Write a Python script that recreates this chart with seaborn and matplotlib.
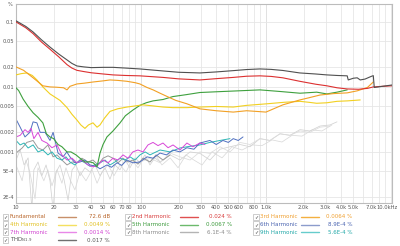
import numpy as np
import pandas as pd
import matplotlib
matplotlib.use("Agg")
import matplotlib.pyplot as plt
import matplotlib.transforms as mtransforms
import seaborn as sns

# ---------------- data (frequency in Hz, level in %) ----------------
thd_f = [10, 12, 13.7, 16, 18.7, 22, 25.6, 28, 30.7, 35, 40, 50, 59.7, 75, 98, 150, 200, 296, 400, 547,
         700, 895, 1100, 1365, 1864, 2500, 3069, 3700, 4465, 4550, 5000, 5369, 5675, 6200, 7000, 7220,
         7350, 8500, 10190]
thd_v = [0.104, 0.085, 0.070, 0.053, 0.041, 0.032, 0.026, 0.023, 0.021, 0.0203, 0.0198, 0.0200, 0.0200,
         0.0195, 0.0189, 0.0176, 0.0168, 0.0164, 0.0170, 0.0178, 0.0185, 0.0189, 0.0186, 0.0179, 0.0164,
         0.0158, 0.0153, 0.0150, 0.0148, 0.0128, 0.0136, 0.0138, 0.0128, 0.0132, 0.0146, 0.0149,
         0.0098, 0.0102, 0.0107]

h2_f = [10, 12, 13.7, 16, 18.7, 22, 25.6, 28, 30.7, 35, 40, 50, 59.7, 75, 98, 150, 200, 296, 400, 547,
        700, 895, 1100, 1365, 1864, 2500, 3069, 3700, 4465, 5500, 6500, 7220, 8500, 10190]
h2_v = [0.100, 0.081, 0.066, 0.049, 0.038, 0.029, 0.022, 0.0195, 0.018, 0.0172, 0.0165, 0.0158, 0.0153,
        0.0150, 0.0148, 0.0140, 0.0133, 0.0128, 0.0134, 0.0140, 0.0146, 0.0148, 0.0145, 0.0138, 0.0122,
        0.0110, 0.0104, 0.0097, 0.0093, 0.0092, 0.0095, 0.0100, 0.0102, 0.0104]

h3_f = [10, 11.5, 13.7, 16.4, 18.7, 21, 24, 25.6, 27, 30.7, 35, 41.3, 50, 56.5, 65, 77.2, 90, 98, 111.8,
        125, 142, 165, 190, 233, 296, 400, 547, 700, 1000, 1365, 1864, 2200, 2704, 3500, 4465, 5369,
        6478, 7220]
h3_v = [0.0203, 0.0180, 0.0138, 0.0104, 0.0100, 0.0099, 0.0097, 0.0090, 0.0102, 0.0111, 0.0114, 0.0119,
        0.0124, 0.0128, 0.0126, 0.0122, 0.0116, 0.0111, 0.0098, 0.0090, 0.0080, 0.0070, 0.0062, 0.0055,
        0.0046, 0.0043, 0.0041, 0.0043, 0.0041, 0.0053, 0.0063, 0.0068, 0.0075, 0.0079, 0.0081, 0.0087,
        0.0098, 0.0119]

h4_f = [10, 11, 12.2, 13.5, 14.7, 16.4, 18.7, 22.5, 25.6, 28, 30.7, 33, 35.6, 38, 41.3, 44.5, 47, 51,
        56.5, 65, 77.2, 90, 103.8, 125, 150, 180, 233, 296, 400, 547, 700, 1019, 1400, 1871, 2200, 2545,
        3069, 3700, 4500, 5675]
h4_v = [0.0153, 0.0160, 0.0164, 0.0150, 0.0128, 0.0100, 0.0078, 0.0062, 0.0048, 0.0038, 0.0031, 0.0026,
        0.0023, 0.0026, 0.0028, 0.0024, 0.0026, 0.0033, 0.0042, 0.0046, 0.0049, 0.0051, 0.0053, 0.0051,
        0.0049, 0.0048, 0.0048, 0.0049, 0.0050, 0.0049, 0.0052, 0.0055, 0.0058, 0.0060, 0.0058, 0.0056,
        0.0057, 0.0060, 0.0061, 0.0063]

h5_f = [10, 10.5, 11.4, 12.5, 13.7, 15, 16.4, 17.5, 18.7, 20, 21.7, 23.3, 25.6, 27.5, 30.2, 32.5, 35.6,
        39.1, 41.5, 44.5, 47, 49.7, 53.4, 59.7, 68, 75, 86.1, 98, 110, 125, 150, 180, 230, 296, 450,
        600, 895, 1300, 1871, 2545, 3069, 3700, 4465]
h5_v = [0.0097, 0.0088, 0.0065, 0.0050, 0.0040, 0.0034, 0.0028, 0.0019, 0.0017, 0.0016, 0.0013, 0.0012,
        0.0010, 0.0010, 0.0009, 0.0008, 0.0007, 0.0007, 0.00068, 0.00059, 0.00096, 0.0013, 0.0017,
        0.0021, 0.0028, 0.0036, 0.0044, 0.0052, 0.0057, 0.0061, 0.0064, 0.0071, 0.0076, 0.0082, 0.0085,
        0.0087, 0.0090, 0.0085, 0.0080, 0.0083, 0.0078, 0.0083, 0.0090]

h6_f = [10, 10.8, 11.8, 12.9, 13.7, 14.7, 15.6, 17.1, 18.7, 19.8, 21.7, 23.8, 25.5, 27.0, 29.7, 32.5,
        35.6, 39.1, 44.5, 47, 53.4, 58, 64.4, 70, 77.2, 86, 98, 111.8, 125, 142, 160, 180, 205, 233, 265,
        296, 356, 400, 452, 500, 547, 600, 655]
h6_v = [0.0032, 0.0024, 0.0017, 0.0020, 0.0029, 0.0028, 0.0020, 0.0020, 0.0015, 0.0020, 0.00096, 0.00084,
        0.0010, 0.00084, 0.00068, 0.0007, 0.00075, 0.00063, 0.00059, 0.00055, 0.00063, 0.00058, 0.00068,
        0.00062, 0.00075, 0.00068, 0.0007, 0.00084, 0.0008, 0.00096, 0.0009, 0.00107, 0.001, 0.00116,
        0.0011, 0.00137, 0.0015, 0.0013, 0.0015, 0.0014, 0.0016, 0.0015, 0.0017]

h7_f = [10, 10.8, 11.8, 12.5, 13.2, 13.9, 15.0, 16.1, 17.7, 19.4, 21.3, 23.3, 25.6, 28.1, 30.7, 33.7,
        37.7, 41.3, 45.3, 49.7, 54.5, 59.7, 65.5, 71.8, 78.7, 86.1, 94.5, 103.8, 113.7, 124.8, 136.8,
        150, 164.6, 180.5, 205, 233, 260, 296, 325]
h7_v = [0.0017, 0.0018, 0.0022, 0.0020, 0.0023, 0.0016, 0.0020, 0.0015, 0.00137, 0.00116, 0.00128,
        0.0009, 0.00075, 0.0008, 0.00068, 0.00075, 0.00063, 0.00059, 0.00063, 0.00075, 0.00068, 0.0008,
        0.00075, 0.0009, 0.0008, 0.0010, 0.00107, 0.0010, 0.00128, 0.0014, 0.00125, 0.00137, 0.00116,
        0.00128, 0.00107, 0.00137, 0.0012, 0.00137, 0.0013]

h8_f = [10, 11.2, 12.2, 13.7, 15.0, 16.4, 18.0, 19.8, 21.3, 23.3, 25.6, 28.1, 30.7, 33.7, 37.7, 41.3,
        45.3, 49.7, 54.5, 59.7, 65.5, 71.8, 78.7, 86.1, 94.5, 103.8, 118, 132, 150, 171]
h8_v = [0.00096, 0.00115, 0.0014, 0.0015, 0.00115, 0.00107, 0.00128, 0.00084, 0.0009, 0.00075, 0.00063,
        0.0007, 0.00068, 0.0008, 0.0007, 0.00075, 0.00063, 0.0008, 0.00087, 0.0008, 0.00068, 0.0008,
        0.0007, 0.00075, 0.00065, 0.0008, 0.0007, 0.0009, 0.00075, 0.0009]

h9_f = [10, 10.8, 11.6, 12.5, 13.7, 15.0, 16.4, 18.0, 19.4, 21.3, 23.3, 25.1, 27.0, 29.6, 32.5, 35.6,
        39.1, 42.9, 47.0, 51.5, 56.5, 61.9, 67.9, 74.5, 81.7, 89.5, 98.2, 108, 118, 142, 171, 205, 247,
        296, 356, 429, 515]
h9_v = [0.0015, 0.00128, 0.00137, 0.00115, 0.00128, 0.0010, 0.00107, 0.0009, 0.0010, 0.0008, 0.00075,
        0.00084, 0.0007, 0.00063, 0.00075, 0.00068, 0.0006, 0.00063, 0.00068, 0.00075, 0.00063, 0.0007,
        0.0008, 0.00075, 0.00084, 0.00075, 0.0009, 0.0010, 0.0009, 0.00107, 0.0010, 0.00115, 0.00122,
        0.00128, 0.0014, 0.0015, 0.0016]

noise1_f = [10, 10.8, 11.6, 12.5, 13.4, 13.9, 15.0, 16.1, 17.4, 18.7, 19.8, 20.9, 22.5, 24.2, 26.1, 28.1,
            30.2, 32.5, 35.6, 39.1, 42.9, 47.0, 51.5, 56.5, 61.9, 67.9, 74.5, 81.7, 89.5, 98.2, 107.6,
            118, 129, 142, 171, 205, 247, 296, 356, 429, 515, 619, 745, 895, 1076, 1294, 1556, 1871,
            2249, 2704, 3251, 3698]
noise1_v = [0.00075, 0.00107, 0.00063, 0.00081, 0.00013, 0.00053, 0.0007, 0.00043, 0.00063, 0.00036,
            0.00013, 0.00049, 0.00063, 0.00038, 0.00018, 0.00053, 0.00063, 0.00043, 0.00057, 0.00049,
            0.00063, 0.00043, 0.00057, 0.00038, 0.00063, 0.00053, 0.00075, 0.00057, 0.00081, 0.00068,
            0.0009, 0.00063, 0.00081, 0.0007, 0.0009, 0.00075, 0.001, 0.00095, 0.00075, 0.0011, 0.0012,
            0.0013, 0.0012, 0.0016, 0.0015, 0.0019, 0.0018, 0.0022, 0.0021, 0.0025, 0.0026, 0.0029]

noise2_f = [10, 11.2, 12.0, 12.9, 14.2, 15.0, 16.7, 18.0, 19.4, 21.3, 23.3, 25.1, 27.0, 29.6, 32.5, 36.3,
            40.6, 44.5, 48.8, 54.5, 60.8, 67.9, 75.9, 84.7, 94.6, 105.7, 118, 132, 147, 171, 198, 229,
            265, 308, 370, 445, 535, 643, 773, 929, 1117, 1343, 1614, 1941, 2333, 2805, 3373]
noise2_v = [0.00063, 0.00036, 0.00075, 0.00049, 0.00019, 0.00057, 0.00036, 0.00053, 0.0003, 0.00053,
            0.00033, 0.00057, 0.00038, 0.00026, 0.00049, 0.00036, 0.00053, 0.00033, 0.00049, 0.00063,
            0.00043, 0.00063, 0.00049, 0.00075, 0.00057, 0.00081, 0.0007, 0.00087, 0.00063, 0.00081,
            0.00057, 0.0009, 0.00075, 0.00063, 0.001, 0.00081, 0.0012, 0.00107, 0.00128, 0.00125,
            0.00153, 0.00142, 0.0018, 0.00175, 0.00218, 0.0021, 0.0026]

noise3_f = [98.2, 118, 142, 171, 205, 247, 296, 356, 429, 515, 619, 745, 895, 1076, 1294, 1556, 1871,
            2249, 2704, 3251]
noise3_v = [0.0007, 0.0008, 0.00068, 0.00096, 0.00084, 0.00075, 0.001, 0.00095, 0.0012, 0.001, 0.0014,
            0.0013, 0.0016, 0.0015, 0.0019, 0.0018, 0.0021, 0.002, 0.0024, 0.0025]

x_ticks = [10, 20, 30, 40, 50, 60, 70, 80, 90, 100, 200, 300, 400, 500, 600, 700, 800, 900,
           1000, 2000, 3000, 4000, 5000, 6000, 7000, 8000, 9000, 10000]
x_labels = ["10", "20", "30", "40", "50", "60", "70", "80", "", "100", "200", "300", "400", "500",
            "600", "", "800", "", "1.0k", "2.0k", "3.0k", "4.0k", "5.0k", "", "7.0k", "", "", "10.0kHz"]
y_ticks = [0.1, 0.05, 0.02, 0.01, 0.005, 0.002, 0.001, 5e-4, 2e-4]
y_labels = ["0.1", "0.05", "0.02", "0.01", "0.005", "0.002", "0.001", "5E-4", "2E-4"]

leg_names = ["Fundamental", "2nd Harmonic", "3rd Harmonic",
             "4th Harmonic", "5th Harmonic", "6th Harmonic",
             "7th Harmonic", "8th Harmonic", "9th Harmonic",
             r"THD$_{\mathrm{N1.9}}$"]
leg_values = ["72.6 dB", "0.024 %", "0.0064 %",
              "0.0049 %", "0.0067 %", "8.9E-4 %",
              "0.0014 %", "6.1E-4 %", "5.6E-4 %",
              "0.017 %"]
leg_text_colors = ["#b8652a", "#d83a3a", "#f0a030",
                   "#e0c020", "#3c9a3c", "#4a64b0",
                   "#d040d0", "#8a8a8a", "#22a8a8",
                   "#555555"]
leg_line_colors = ["#c8906a", "#e05050", "#f4b040",
                   "#f4e060", "#6cba6c", "#8c9ccc",
                   "#e888e8", "#b4b4b4", "#66cccc",
                   "#707070"]

# ---------------- drawing ----------------
sns.set_theme(style="white")
plt.rcParams['font.family'] = ['DejaVu Sans']

fig = plt.figure(figsize=(4, 2.46), dpi=100)
ax = fig.add_axes([0.04, 0.175, 0.94, 0.809])

series = [
    (noise2_f, noise2_v, "#dadada", 0.55, 1),
    (noise1_f, noise1_v, "#d2d2d2", 0.55, 1),
    (noise3_f, noise3_v, "#dcdcdc", 0.55, 1),
    (h8_f, h8_v, "#9a9a9a", 0.7, 2),
    (h9_f, h9_v, "#2cb5b5", 0.7, 2),
    (h6_f, h6_v, "#5070c0", 0.7, 2),
    (h7_f, h7_v, "#d848d8", 0.7, 2),
    (h5_f, h5_v, "#3ea03e", 0.8, 3),
    (h4_f, h4_v, "#f2d020", 0.8, 3),
    (h3_f, h3_v, "#f2a024", 0.8, 3),
    (h2_f, h2_v, "#dc3030", 0.8, 4),
    (thd_f, thd_v, "#505050", 0.8, 5),
]
for f, v, c, lw, z in series:
    df = pd.DataFrame({"Hz": f, "pct": v})
    sns.lineplot(data=df, x="Hz", y="pct", ax=ax, color=c, lw=lw,
                 estimator=None, sort=False, zorder=z)

ax.set_xscale("log")
ax.set_yscale("log")
ax.set_xlim(10, 10190)
ax.set_ylim(1.64e-4, 0.189)
ax.set_xlabel("")
ax.set_ylabel("")

ax.set_xticks(x_ticks)
ax.set_xticklabels(x_labels)
ax.set_yticks(y_ticks)
ax.set_yticklabels(y_labels)
ax.minorticks_off()
ax.tick_params(axis="both", length=0, labelsize=3.7, colors="#555555", pad=1.2)
ax.grid(True, which="major", color="#e6e6e6", lw=0.6)
for d in [10, 100, 1000]:
    ax.axvline(d, color="#cccccc", lw=0.7, zorder=0.5)
for s in ax.spines.values():
    s.set_color("#bcbcbc")
    s.set_linewidth(0.8)

# keep the last frequency label inside the figure
last = ax.get_xticklabels()[-1]
last.set_horizontalalignment("right")
last.set_transform(last.get_transform() + mtransforms.ScaledTranslation(7 / 100, 0, fig.dpi_scale_trans))

fig.text(0.032, 0.993, "%", fontsize=3.7, color="#555555", ha="right", va="top")

# legend area
row_y = [217, 224.5, 232, 240]
col_box = [5.5, 128, 256]
col_label = [10, 132, 260]
col_line = [(58, 76), (180, 198), (301, 319)]
col_val = [110, 232, 352]
W, H = 400.0, 246.0
for i, (nm, val, tc, lc) in enumerate(zip(leg_names, leg_values, leg_text_colors, leg_line_colors)):
    r, c = divmod(i, 3)
    yy = 1 - row_y[r] / H
    fig.text(col_box[c] / W, yy, "\u2713", fontsize=3.6, color="#444444", ha="center", va="center",
             bbox=dict(boxstyle="square,pad=0.15", fc="white", ec="#a8a8a8", lw=0.4))
    fig.text(col_label[c] / W, yy, nm, fontsize=4.0, color=tc, ha="left", va="center")
    x0, x1 = col_line[c]
    fig.add_artist(plt.Line2D([x0 / W, x1 / W], [yy, yy], color=lc, lw=1.0, transform=fig.transFigure))
    fig.text(col_val[c] / W, yy, val, fontsize=4.0, color=tc, ha="right", va="center")

fig.savefig("out.png", dpi=100)
